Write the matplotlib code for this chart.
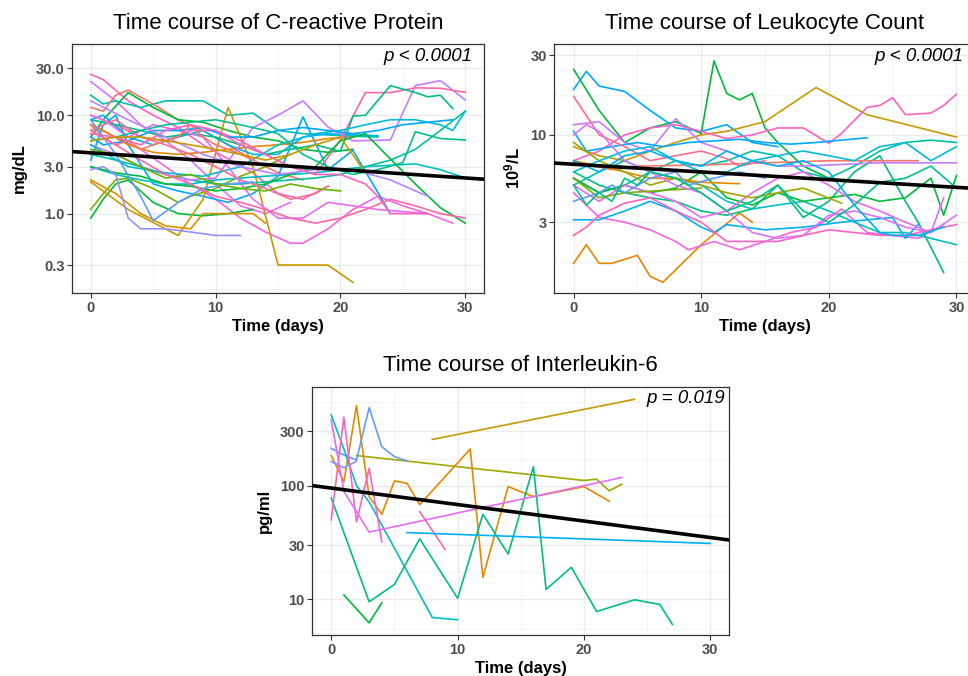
import numpy as np
import matplotlib
matplotlib.use("Agg")
import matplotlib.pyplot as plt
from matplotlib.ticker import FixedLocator, NullFormatter

plt.rcParams['font.family'] = ['Liberation Sans', 'DejaVu Sans']
plt.rcParams['mathtext.fontset'] = 'custom'
plt.rcParams['mathtext.bf'] = 'Liberation Sans:bold'
plt.rcParams['mathtext.rm'] = 'Liberation Sans:bold'
plt.rcParams['mathtext.default'] = 'bf'

# ---- C-reactive protein (mg/dL), one list per patient ----
crp_days = [
    [0, 1, 3, 5, 7, 9, 11, 13, 15, 17, 19],
    [0, 2, 4, 6, 8, 10, 12, 14, 16],
    [0, 1, 2, 4, 6, 9, 11, 13, 15, 17, 20, 23],
    [0, 1, 2, 3, 5, 7, 9, 11, 13, 15, 17],
    [0, 1, 3, 5, 7, 9, 11, 13, 15, 17, 19, 21],
    [0, 2, 4, 6, 8, 10, 12, 14, 16, 17, 19, 21, 23, 25, 27, 29],
    [0, 1, 2, 3, 5, 7, 9, 11, 13, 15, 17, 19, 21, 24],
    [0, 1, 2, 3, 5, 7, 8, 10, 12, 14, 16],
    [0, 1, 2, 3, 5, 7, 9, 11, 13],
    [0, 3, 7, 9, 11, 13, 15, 19, 21],
    [0, 1, 3, 5, 7, 9, 11, 13, 15, 17, 19, 21],
    [0, 2, 4, 6, 8, 9, 11, 13, 14],
    [0, 2, 4, 6, 8, 10, 12, 14, 16, 18, 20, 22, 24, 26, 28, 30],
    [0, 1, 3, 5, 7, 9, 11, 13, 15, 17, 19, 21, 23],
    [0, 2, 4, 6, 8, 10, 12, 14, 16, 18, 20, 22, 24, 26, 28, 30],
    [0, 2, 4, 6, 8, 10, 13, 15, 17, 19, 21, 24, 26, 28, 30],
    [0, 2, 4, 6, 8, 10, 12, 14, 16, 18, 20, 22, 24, 26, 28, 30],
    [0, 2, 4, 6, 8, 10, 12, 14, 16, 18, 20, 21, 22, 24, 26, 27, 28, 29],
    [0, 2, 4, 6, 8, 10, 12, 14, 16, 18, 20, 22, 24, 26, 28, 30],
    [0, 3, 6, 9, 12, 15, 18, 20, 22, 24, 26, 28, 29, 30],
    [0, 1, 2, 3, 4, 6, 8, 10, 12],
    [0, 2, 4, 6, 8, 10, 12, 14, 16, 18, 19],
    [0, 1, 3, 5, 7, 9, 11, 13, 15, 17, 19, 21, 23, 25, 27],
    [0, 1, 3, 5, 7, 9, 11, 13, 15, 17, 19, 21, 23, 25, 27, 29],
    [0, 2, 4, 6, 8, 10, 12, 14, 15, 17, 19, 21, 23, 25, 26, 28, 30],
    [0, 2, 4, 6, 8, 10, 12, 14, 16, 18, 20, 22, 23, 24, 27],
    [0, 3, 6, 9, 12, 15, 18, 21, 24, 27],
    [0, 1, 2, 3, 4, 5, 6, 7, 8, 9, 10, 11, 12, 13],
    [0, 2, 4, 5, 7, 9, 11, 13],
    [0, 2, 4, 6, 8, 10, 12, 14, 16, 18, 20],
    [0, 2, 4, 6, 8, 10, 12, 14, 16, 18, 20, 22],
    [0, 2, 4, 6, 8, 10, 12, 14, 16, 18, 20, 22, 24, 26, 28, 30],
]
crp_vals = [
    [26, 23, 14, 10, 7.5, 5, 3.6, 2.6, 1.6, 1.4, 1.9],
    [22, 14, 8, 5.5, 3.5, 2.0, 1.2, 1.0, 1.3],
    [16, 13, 14, 12, 14, 14, 10, 10.5, 7, 6.5, 6.2, 6],
    [12, 11, 16, 18, 13, 9, 7, 5, 3.5, 2.6, 2.2],
    [6, 9, 17, 12, 9, 8.5, 7, 6, 5.5, 4.5, 4.2, 4.5],
    [8, 6, 4.5, 3, 2, 1.4, 0.9, 0.65, 0.5, 0.5, 0.7, 1.1, 1.5, 1.2, 1.0, 0.8],
    [3.5, 8, 10, 5, 2, 1.7, 1.5, 1.3, 1.6, 2.4, 9.6, 2.8, 4.4, 1.0],
    [1.1, 1.6, 2.2, 2.3, 1.8, 1.3, 1.5, 1.8, 2.4, 3, 4],
    [0.9, 1.4, 2.0, 2.2, 1.3, 1.0, 0.95, 1.0, 1.1],
    [2.1, 1.1, 0.6, 1.4, 12, 3, 0.3, 0.3, 0.2],
    [8, 7, 5, 4.2, 4, 4.2, 4.5, 4.8, 5, 5.3, 5.8, 6],
    [2.2, 1.6, 1.0, 0.75, 0.7, 1.0, 1.0, 1.0, 0.8],
    [3, 2.5, 2.2, 2, 2, 2.2, 2.3, 2.4, 2.5, 2.6, 2.8, 3, 3.1, 3.2, 2.8, 2.3],
    [9, 10, 6, 5, 6, 7, 5, 4, 4, 6, 6.5, 6.3, 6.2],
    [4, 3.5, 3, 2.5, 2.2, 2, 2, 2.1, 2.2, 2.3, 2.5, 3, 3.5, 4.5, 7, 11],
    [5, 4, 3, 2.5, 2.2, 2.3, 7.5, 10, 14, 7.6, 5.5, 5.6, 20, 22.5, 14.3],
    [10, 8, 6, 5.5, 7, 7, 5.5, 4, 3, 2.5, 5.6, 17, 17, 19, 18.8, 17.1],
    [9, 8, 7, 6, 6.5, 6, 5, 4, 4.5, 5, 4.3, 9.8, 10, 20, 17, 15.4, 16, 11.7],
    [3, 2.6, 2.4, 2, 1.9, 1.7, 1.8, 2, 2.5, 3, 5.5, 6.5, 3.6, 2, 1.15, 0.8],
    [5, 3, 2.6, 2.4, 3, 5, 6.5, 7, 8, 9, 9, 8, 7, 11],
    [2.8, 3, 2.5, 0.9, 0.7, 0.7, 0.65, 0.6, 0.6],
    [7, 9, 6, 5, 4, 3, 2.2, 1.8, 1.4, 1.6, 1.9],
    [10, 9, 6, 8, 7, 6, 3, 1.4, 0.9, 0.9, 1.3, 1.2, 1.1, 1.05, 1.0],
    [6, 5, 5.5, 7, 7, 7.5, 6, 6, 7, 7.5, 7, 6.5, 7, 8, 8.5, 9],
    [5.5, 6, 7, 8, 8.5, 9, 8, 7, 6.5, 4, 3, 2.5, 2.8, 3.3, 6.8, 5.8, 5.6],
    [6.5, 6, 5, 7, 8, 7, 5, 4, 3, 2.5, 2.5, 2, 1.5, 1.0, 1.0],
    [14, 9, 6, 4, 3, 2.5, 2.8, 2.8, 2.2, 1.5],
    [8, 6, 5, 5.5, 4.5, 5, 5.5, 6, 8, 6, 5, 4.5, 4, 3.5],
    [9, 4, 1.5, 0.85, 1.3, 1.8, 2, 2.1],
    [4.5, 4, 3, 2.3, 2.5, 2.0, 1.8, 1.7, 2, 1.8, 1.7],
    [5.5, 6, 6, 5.5, 5, 4.5, 4, 3.5, 4, 5, 6, 2.6],
    [7, 5, 3.5, 2.5, 2, 1.5, 1.3, 1.1, 0.9, 0.8, 0.9, 1.1, 1.4, 1.2, 1.0, 0.9],
]
crp_cols = ['#FF61C3', '#DB72FB', '#00C0AF', '#F8766D', '#00BA38', '#F564E3',
            '#00A9FF', '#7CAE00', '#00BA38', '#C49A00', '#E58700', '#D89000',
            '#00BFC4', '#00B0F6', '#00C1A3', '#C77CFF', '#FF64B0', '#00BF7D',
            '#00BA38', '#00BCD8', '#9590FF', '#FF6C91', '#E76BF3', '#00A5FF',
            '#00C08B', '#FF61C3', '#B983FF', '#F8766D', '#619CFF', '#6BB100',
            '#C99800', '#FF67A4']

# ---- Leukocyte count (10^9/L) ----
wbc_days = [
    [0, 2, 4, 6, 8, 10, 11, 12, 13, 14, 15, 16, 18, 20],
    [0, 1, 2, 4, 6, 8, 10, 12, 14, 16],
    [0, 2, 4, 6, 8, 10, 12, 15, 19, 23, 30],
    [0, 1, 2, 3, 5, 6, 7, 10, 13, 14],
    [0, 2, 4, 6, 8, 10, 12, 14, 16, 18, 20, 21, 23, 24, 25, 26, 28, 29, 30],
    [0, 2, 4, 6, 8, 9, 11, 13, 15, 17, 19, 21, 23, 25, 27, 29],
    [0, 2, 4, 6, 8, 10, 11, 12, 15, 18, 21, 25, 26, 27],
    [0, 2, 4, 6, 8, 10, 12, 14, 16, 18, 20, 22, 24, 26, 27, 29],
    [0, 2, 4, 6, 8, 10, 12, 14, 16, 18, 20, 22, 24, 26, 28, 30],
    [0, 2, 4, 6, 8, 10, 12, 14, 16, 18, 20, 22, 24, 26, 28, 30],
    [0, 2, 4, 6, 8, 10, 12, 14, 16, 18, 20, 22, 24, 26, 28, 30],
    [0, 3, 5, 10, 15, 20, 27],
    [0, 1, 3, 5, 7, 9, 11, 13, 15, 17, 19, 21, 23],
    [0, 2, 4, 6, 8, 10, 12, 14, 16, 18, 20, 22, 24, 26, 28, 29, 30],
    [0, 2, 4, 6, 8, 10, 12, 14, 16, 18, 20, 22, 24, 26, 28, 29],
    [0, 2, 4, 6, 8, 10, 13],
    [0, 2, 4, 6, 8, 10, 12, 14, 16, 18, 21],
    [0, 2, 4, 6, 8, 10],
    [0, 2, 4, 6, 8, 10, 12, 13, 15],
    [0, 2, 3, 4, 6, 8, 9, 11, 13, 15],
    [0, 1, 2, 4, 6, 8, 10, 12, 14, 16, 18, 20, 22, 24, 26, 28, 30],
    [0, 1, 2, 3, 4, 5, 6, 8, 10, 12, 14, 16, 18, 20, 22, 24, 26, 28, 30],
    [0, 1, 2, 4, 6, 8, 10, 12, 14, 16, 18, 20, 22, 24, 26, 28, 30],
    [0, 2, 4, 6, 8, 10, 12, 14, 16, 18, 20, 22, 24, 25, 27, 29],
    [0, 2, 4, 6, 8, 10, 12, 14, 16, 18, 20, 22, 24, 26, 28, 30],
]
wbc_vals = [
    [24.7, 14, 9, 11, 12, 10.2, 27.7, 17.7, 16.2, 17.7, 11, 9, 6.5, 5.5],
    [18.7, 24, 19.6, 18.2, 14, 11, 10.5, 11.5, 9, 8.5],
    [8.5, 7.5, 7, 8, 9, 10, 10.5, 12, 19.2, 13.2, 9.7],
    [1.7, 2.2, 1.7, 1.7, 1.9, 1.42, 1.31, 2.2, 3.4, 3.0],
    [7, 8, 10, 11, 11.5, 10.5, 9.5, 10, 11, 11, 8.9, 10.2, 14.6, 15, 16.7, 13.2, 13.5, 15, 17.5],
    [4.5, 3.2, 3, 2.7, 2.3, 2.05, 2.3, 2.05, 2.3, 2.6, 2.8, 3.6, 2.6, 2.5, 2.4, 2.9],
    [3.1, 3.1, 3.5, 4, 3.5, 2.8, 2.6, 2.9, 2.7, 2.8, 3.0, 3.2, 2.4, 2.9],
    [6, 5, 4.5, 4.2, 4, 3.5, 3.3, 3.6, 5, 3.2, 4, 6, 7.5, 4, 3, 1.5],
    [5, 6, 7, 6, 5.5, 5, 4, 3.6, 3.8, 4, 3.5, 3, 2.6, 2.6, 2.4, 2.2],
    [5.5, 4.5, 5, 6, 7, 6.5, 7, 8, 7.5, 6, 5.5, 6.5, 8, 9, 9.3, 9],
    [11.5, 12, 9, 8, 12.5, 9, 8, 7, 6.5, 6.5, 6.6, 6.7, 6.8, 6.8, 6.8, 6.8],
    [6.8, 6.2, 6.5, 6.6, 6.8, 7.0, 7.0],
    [10.5, 8, 8.5, 9, 8.5, 9, 9.2, 9.4, 9, 8.8, 9, 9.3, 9.6],
    [5.5, 4.5, 5, 4.5, 4.8, 6, 4.2, 3.8, 4.5, 4, 4.2, 4.4, 4, 4.2, 5.5, 3.3, 5.7],
    [5, 4, 5, 4.5, 4, 3.2, 3.5, 4.5, 5.5, 6, 5, 4, 3.5, 3, 2.6, 4.2],
    [7, 6.5, 6, 5.5, 5.5, 5.2, 5.1],
    [9, 7, 6, 5, 5.5, 5, 4.5, 4.2, 4.5, 4.8, 3.9],
    [5.5, 4.2, 4.5, 4.6, 4.7, 4.8],
    [17, 10, 8.5, 7, 7.5, 8, 7.2, 6.5, 7],
    [4, 4.5, 5, 4.5, 5.5, 6, 5, 5.5, 6, 5.5],
    [10, 11.5, 10.5, 7, 6, 5, 4.5, 3.5, 2.6, 2.4, 2.5, 3.3, 3.5, 3.2, 2.8, 2.6, 3.3],
    [5, 3.8, 4.5, 4, 5.5, 5, 6, 5.5, 4.5, 3.5, 4, 5, 3.5, 3, 3.8, 5.2, 5.5, 6.5, 4.8],
    [2.5, 2.8, 3.3, 3.9, 4.2, 3.5, 3, 2.3, 2.3, 2.3, 2.5, 2.7, 2.6, 2.5, 2.5, 2.7, 2.9],
    [7, 6, 7.5, 8, 7, 6.5, 8, 7, 6.5, 7, 6, 3.8, 2.6, 2.5, 2.5, 2.8],
    [6, 7, 8, 8.5, 7, 6, 6, 7, 7.5, 8, 7.5, 7, 8.5, 9, 7, 8.5],
]
wbc_cols = ['#00BA38', '#00A9FF', '#C49A00', '#E58700', '#FF61C3', '#F564E3',
            '#00B0F6', '#00BF7D', '#00BFC4', '#00C1A3', '#C77CFF', '#F8766D',
            '#00A9FF', '#00BA38', '#E76BF3', '#E58700', '#A3A500', '#7CAE00',
            '#FF6C91', '#619CFF', '#DB72FB', '#00C08B', '#FF61C3', '#00B0F6',
            '#00BCD8']

# ---- Interleukin-6 (pg/ml) ----
il6_days = [
    [8, 24],
    [2, 20, 21, 22, 23],
    [0, 1, 2, 3, 4, 5, 6, 7, 11, 12, 14, 16, 20, 22],
    [0, 1, 2, 3, 4, 5, 6],
    [0, 1, 2],
    [0, 1, 2, 3, 8, 10],
    [0, 3, 5, 7, 10, 12, 14, 16, 17, 19, 21, 24, 26, 27],
    [1, 3, 4],
    [0, 1, 2, 3, 4],
    [0, 1, 3, 23],
    [7, 9],
    [6, 30],
]
il6_vals = [
    [255, 575],
    [184, 111, 114, 90, 103],
    [184, 108, 506, 80, 56, 110, 105, 68, 210, 15.6, 98, 80, 98, 73],
    [213, 186, 168, 486, 220, 180, 165],
    [163, 144, 164],
    [419, 210, 100, 72, 6.9, 6.6],
    [78, 9.5, 13.5, 34, 10.2, 56, 25, 147, 12.2, 19.1, 7.8, 9.9, 9.0, 6.0],
    [10.9, 6.2, 9.3],
    [50, 400, 48, 142, 32],
    [379, 89, 39, 118],
    [59, 27.5],
    [38.6, 31],
]
il6_cols = ['#C49A00', '#A3A500', '#E58700', '#619CFF', '#8494FF', '#00BFC4',
            '#00BF7D', '#00BA38', '#FF61C3', '#E76BF3', '#FF64B0', '#00B0F6']

# mixed-model fits on log10 scale: (intercept, slope per day)
crp_fit = (0.618, -0.00852)
wbc_fit = (0.824, -0.00461)
il6_fit = (1.9785, -0.01451)

titles = ['Time course of C-reactive Protein', 'Time course of Leukocyte Count',
          'Time course of Interleukin-6']
ylabels = ['mg/dL', '10$^{9}$/L', 'pg/ml']
pvals = ['p < 0.0001', 'p < 0.0001', 'p = 0.019']

# breaks (extended one step each side so minor grid lines cover the panel)
crp_breaks = [0.1, 0.3, 1, 3, 10, 30, 100]
crp_ticklabels = ['0.3', '1.0', '3.0', '10.0', '30.0']
wbc_breaks = [1, 3, 10, 30, 100]
wbc_ticklabels = ['3', '10', '30']
il6_breaks = [3, 10, 30, 100, 300, 1000]
il6_ticklabels = ['10', '30', '100', '300']

fig = plt.figure(figsize=(9.68, 6.76), dpi=100)
ax1 = fig.add_axes([0.0744, 0.5666, 0.4256, 0.3683])
ax2 = fig.add_axes([0.5728, 0.5666, 0.435, 0.3683])
ax3 = fig.add_axes([0.3226, 0.0607, 0.4308, 0.3673])


def style(ax, breaks, labels, ylim, title, ylab, ptxt, px):
    ax.set_yscale('log')
    ax.set_xlim(-1.5, 31.5)
    ax.set_ylim(*ylim)
    ax.set_xticks([0, 10, 20, 30])
    ax.xaxis.set_minor_locator(FixedLocator([5, 15, 25]))
    ticks = [b for b in breaks if ylim[0] <= b <= ylim[1]]
    ax.yaxis.set_major_locator(FixedLocator(ticks))
    ax.set_yticklabels(labels)
    lg = np.log10(breaks)
    ax.yaxis.set_minor_locator(FixedLocator(10 ** ((lg[:-1] + lg[1:]) / 2)))
    ax.yaxis.set_minor_formatter(NullFormatter())
    ax.grid(True, which='major', color='#EBEBEB', lw=1.0, zorder=0)
    ax.grid(True, which='minor', color='#F2F2F2', lw=0.6, zorder=0)
    ax.set_axisbelow(True)
    ax.tick_params(which='major', length=3.5, width=0.8, color='#333333',
                   labelsize=10.5, labelcolor='#4D4D4D', pad=2)
    ax.tick_params(which='minor', length=0)
    for lab in ax.get_xticklabels() + ax.get_yticklabels():
        lab.set_fontweight('bold')
    for s in ax.spines.values():
        s.set_color('#333333')
        s.set_linewidth(0.9)
    ax.set_title(title, fontsize=16, pad=11)
    ax.set_xlabel('Time (days)', fontsize=12, fontweight='bold', labelpad=3)
    ax.set_ylabel(ylab, fontsize=12, fontweight='bold', labelpad=6)
    ax.text(px, 0.985, ptxt, transform=ax.transAxes, ha='right', va='top',
            fontsize=13.5, style='italic')


def draw(ax, days, vals, cols, fit):
    for d, v, c in zip(days, vals, cols):
        ax.plot(d, v, color=c, lw=1.2, zorder=2)
    xx = np.array([-1.5, 31.5])
    ax.plot(xx, 10 ** (fit[0] + fit[1] * xx), color='black', lw=2.6, zorder=3)


draw(ax1, crp_days, crp_vals, crp_cols, crp_fit)
draw(ax2, wbc_days, wbc_vals, wbc_cols, wbc_fit)
draw(ax3, il6_days, il6_vals, il6_cols, il6_fit)

style(ax1, crp_breaks, crp_ticklabels, (0.156, 53), titles[0], ylabels[0], pvals[0], 0.971)
style(ax2, wbc_breaks, wbc_ticklabels, (1.13, 35), titles[1], ylabels[1], pvals[1], 0.971)
style(ax3, il6_breaks, il6_ticklabels, (4.85, 743), titles[2], ylabels[2], pvals[2], 0.99)

fig.savefig('out.png', dpi=100)
